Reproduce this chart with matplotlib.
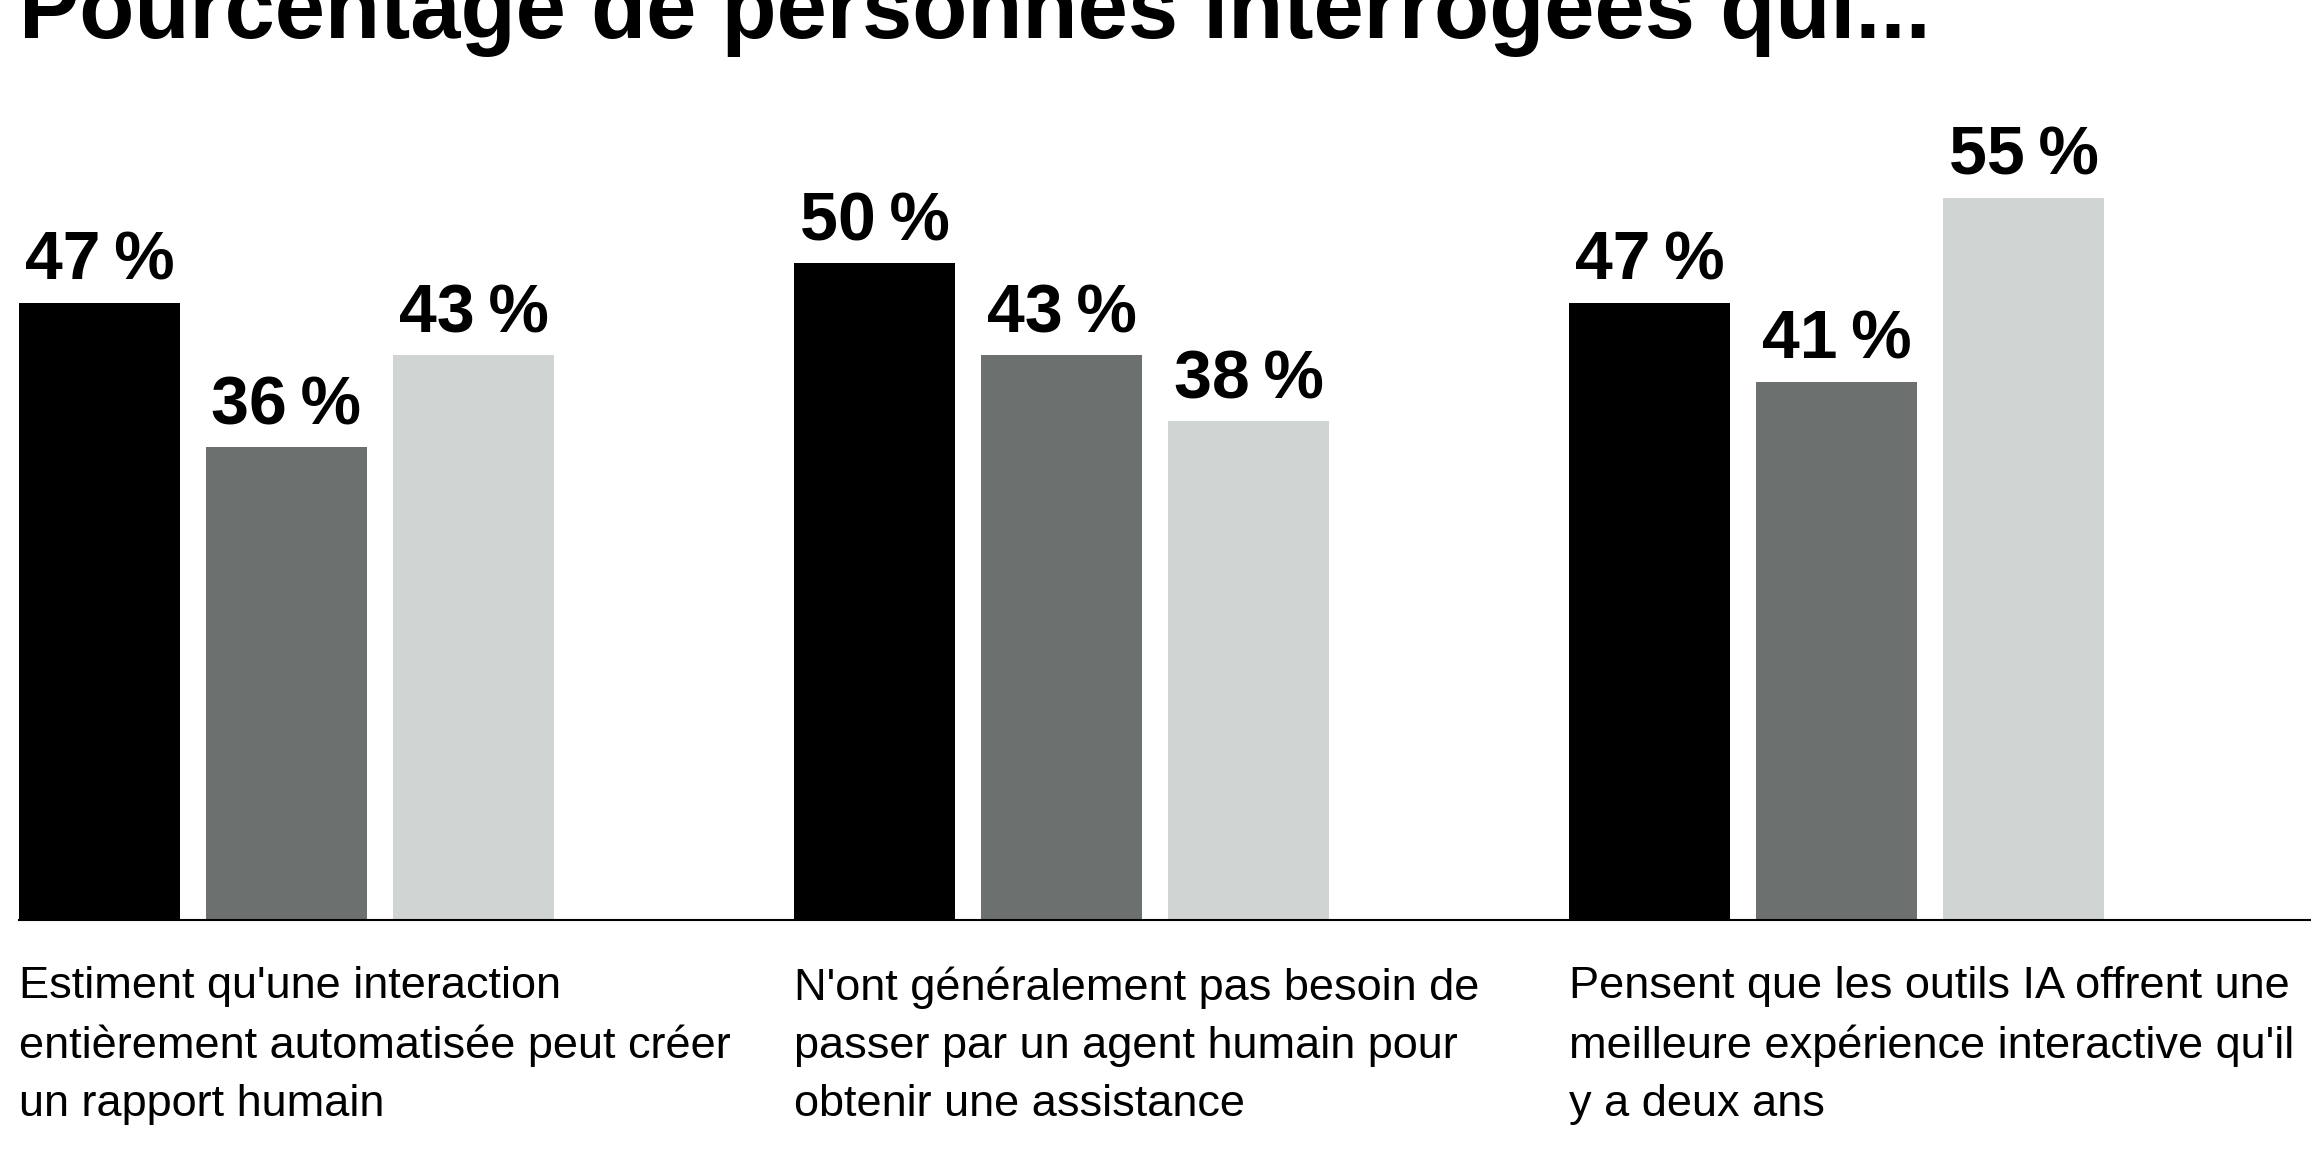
import matplotlib
matplotlib.use('Agg')
import matplotlib.pyplot as plt
import matplotlib.transforms as mtransforms
import numpy as np

# ─── données ───
titre = "Pourcentage de personnes interrogées qui..."
categories = [
    "Estiment qu'une interaction\nentièrement automatisée peut créer\nun rapport humain",
    "N'ont généralement pas besoin de\npasser par un agent humain pour\nobtenir une assistance",
    "Pensent que les outils IA offrent une\nmeilleure expérience interactive qu'il\ny a deux ans",
]
serie_a = [47, 50, 47]   # noir
serie_b = [36, 43, 41]   # gris foncé
serie_c = [43, 38, 55]   # gris clair
couleurs = ['#000000', '#6c706f', '#d0d4d2']

plt.rcParams['font.family'] = ['Liberation Sans', 'DejaVu Sans']

W, H, DPI = 2311, 1153, 100
fig = plt.figure(figsize=(W / DPI, H / DPI), dpi=DPI, facecolor='white')

# géométrie (pixels de la référence)
bar_w = 0.2077
step = 0.2413
x_left = -step - bar_w / 2
x_right = x_left + (W - 19) / 775
ax = fig.add_axes([19 / W, (H - 920) / H, 1 - 19 / W, 788 / H])
ax.set_xlim(x_left, x_right)
ax.set_ylim(0, 60)

x = np.arange(len(categories))
for k, (serie, col) in enumerate(zip([serie_a, serie_b, serie_c], couleurs)):
    xs = x + (k - 1) * step
    ax.bar(xs, serie, width=bar_w, color=col, zorder=2)
    for xi, v in zip(xs, serie):
        ax.annotate(f"{v}\u2009%", (xi, v), xytext=(0, 16.5), textcoords='offset points',
                    ha='center', va='baseline', fontsize=49, fontweight='bold',
                    color='black')

for s in ['top', 'left', 'right']:
    ax.spines[s].set_visible(False)
ax.spines['bottom'].set_linewidth(1.5)
ax.spines['bottom'].set_color('black')
ax.set_xticks([])
ax.set_yticks([])
ax.patch.set_alpha(0)

# libellés des catégories sous l'axe (baseline = dernière ligne)
trans = mtransforms.blended_transform_factory(ax.transData, fig.transFigure)
for xi, lab in zip(x, categories):
    ax.text(xi + x_left, 1 - 1116 / H, lab, transform=trans,
            ha='left', va='baseline', fontsize=32.5, linespacing=1.53,
            color='black')

# titre coupé en haut comme dans la référence
fig.text(19 / W, 1 - 38 / H, titre, ha='left', va='baseline',
         fontsize=65, fontweight='bold', color='black')

fig.savefig('out.png', dpi=DPI, facecolor='white')
